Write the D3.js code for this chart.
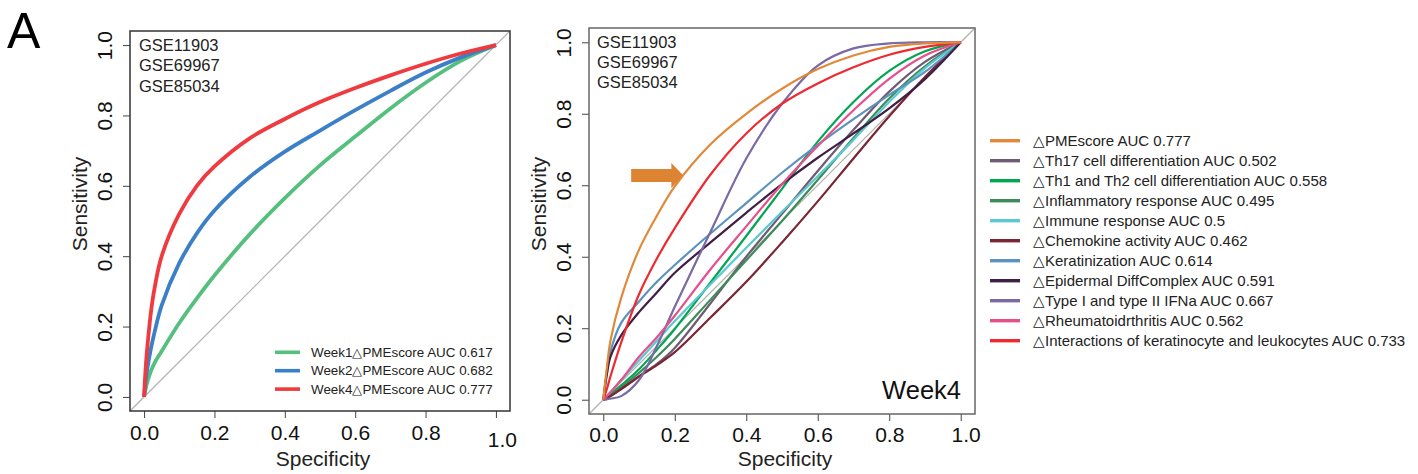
<!DOCTYPE html>
<html>
<head>
<meta charset="utf-8">
<script src="https://cdn.jsdelivr.net/npm/d3@7"></script>
<style>
  body { margin: 0; background: #fff; }
  svg { display: block; font-family: "Liberation Sans", Arial, Helvetica, sans-serif; }
</style>
</head>
<body>
<div id="chart"></div>
<script>
/* Values (sensitivity at each specificity step) */
const ticks = [0, 0.2, 0.4, 0.6, 0.8, 1.0];
const datasets = ["GSE11903", "GSE69967", "GSE85034"];

// Left panel: PMEscore change at week 1, 2 and 4
const leftSpec = [0, 0.005, 0.01, 0.02, 0.03, 0.05, 0.1, 0.15, 0.2, 0.3, 0.4, 0.5, 0.6, 0.7, 0.8, 0.9, 1];
const week1 = [0, 0.025, 0.045, 0.075, 0.097, 0.13, 0.21, 0.28, 0.345, 0.462, 0.565, 0.658, 0.74, 0.82, 0.893, 0.955, 1];
const week2 = [0, 0.05, 0.085, 0.14, 0.185, 0.26, 0.38, 0.465, 0.53, 0.625, 0.697, 0.757, 0.815, 0.87, 0.922, 0.965, 1];
const week4 = [0, 0.09, 0.15, 0.245, 0.31, 0.40, 0.52, 0.60, 0.655, 0.735, 0.79, 0.838, 0.878, 0.914, 0.947, 0.976, 1];
const leftLabels = ["Week1\u25B3PMEscore AUC 0.617", "Week2\u25B3PMEscore AUC 0.682", "Week4\u25B3PMEscore AUC 0.777"];
const leftColors = ["#55bf7d", "#3b7fc8", "#ef3b3f"];

// Right panel: week 4, PMEscore against the single pathways
const rightSpec = [0, 0.01, 0.02, 0.05, 0.1, 0.15, 0.2, 0.3, 0.4, 0.5, 0.6, 0.7, 0.8, 0.9, 1];
const pmescore    = [0, 0.09, 0.165, 0.285, 0.42, 0.515, 0.597, 0.715, 0.80, 0.87, 0.925, 0.963, 0.987, 0.997, 1];
const th17        = [0, 0.005, 0.01, 0.03, 0.065, 0.10, 0.145, 0.27, 0.40, 0.52, 0.64, 0.755, 0.862, 0.945, 1];
const th1th2      = [0, 0.007, 0.015, 0.04, 0.085, 0.14, 0.198, 0.328, 0.458, 0.59, 0.722, 0.833, 0.92, 0.975, 1];
const inflam      = [0, 0.006, 0.012, 0.035, 0.075, 0.12, 0.17, 0.28, 0.39, 0.50, 0.615, 0.732, 0.843, 0.933, 1];
const immune      = [0, 0.011, 0.022, 0.055, 0.11, 0.165, 0.22, 0.323, 0.425, 0.526, 0.625, 0.727, 0.833, 0.928, 1];
const chemokine   = [0, 0.005, 0.01, 0.03, 0.065, 0.097, 0.133, 0.23, 0.33, 0.44, 0.555, 0.675, 0.793, 0.903, 1];
const keratin     = [0, 0.08, 0.135, 0.215, 0.275, 0.33, 0.377, 0.465, 0.55, 0.635, 0.713, 0.785, 0.853, 0.917, 1];
const epidermal   = [0, 0.07, 0.12, 0.18, 0.245, 0.30, 0.355, 0.44, 0.523, 0.603, 0.677, 0.745, 0.815, 0.897, 1];
const ifn         = [0, 0.001, 0.003, 0.01, 0.055, 0.15, 0.26, 0.47, 0.675, 0.828, 0.935, 0.983, 0.997, 1, 1];
const rheumatoid  = [0, 0.01, 0.02, 0.055, 0.12, 0.175, 0.235, 0.365, 0.485, 0.603, 0.71, 0.81, 0.898, 0.963, 1];
const interaction = [0, 0.03, 0.065, 0.16, 0.295, 0.395, 0.48, 0.63, 0.745, 0.828, 0.885, 0.93, 0.965, 0.987, 1];
const rightLabels = [
  "\u25B3PMEscore AUC 0.777",
  "\u25B3Th17 cell differentiation AUC 0.502",
  "\u25B3Th1 and Th2 cell differentiation AUC 0.558",
  "\u25B3Inflammatory response AUC 0.495",
  "\u25B3Immune response AUC 0.5",
  "\u25B3Chemokine activity AUC 0.462",
  "\u25B3Keratinization AUC 0.614",
  "\u25B3Epidermal DiffComplex AUC 0.591",
  "\u25B3Type I and type II IFNa AUC 0.667",
  "\u25B3Rheumatoidrthritis AUC 0.562",
  "\u25B3Interactions of keratinocyte and leukocytes AUC 0.733"
];
const rightColors = ["#e0893a", "#6f5b74", "#00a651", "#3b8c58", "#5cc8d2", "#7a2434",
                     "#5b93be", "#3f1f46", "#7a69a4", "#e6508a", "#ee2a30"];

/* Create the SVG container */
const width = 1418, height = 474;
const svg = d3.select("#chart")
  .append("svg")
  .attr("width", width)
  .attr("height", height)
  .attr("viewBox", [0, 0, width, height]);

svg.append("rect").attr("width", width).attr("height", height).attr("fill", "#fff");

svg.append("text")
  .attr("x", 7).attr("y", 48)
  .style("font-size", "50px")
  .text("A");

/* One ROC panel: box, diagonal, curves, axes, labels */
const drawPanel = (box, series, opts) => {
  const x = d3.scaleLinear().domain([-0.04, 1.04]).range([box.left, box.right]);
  const y = d3.scaleLinear().domain([-0.04, 1.04]).range([box.bottom, box.top]);
  const g = svg.append("g");

  // reference diagonal (abline)
  g.append("line")
    .attr("x1", x(-0.04)).attr("y1", y(-0.04))
    .attr("x2", x(1.04)).attr("y2", y(1.04))
    .attr("stroke", "#b0b0b0")
    .attr("stroke-width", 1.2);

  const line = d3.line()
    .x(d => x(d[0]))
    .y(d => y(d[1]))
    .curve(d3.curveCatmullRom.alpha(0.5));

  g.selectAll("path.roc")
    .data(series)
    .join("path")
      .attr("class", "roc")
      .attr("d", d => line(d.points))
      .attr("fill", "none")
      .attr("stroke", d => d.color)
      .attr("stroke-width", opts.lineWidth)
      .attr("stroke-linejoin", "round");

  /* Axes */
  const xAxis = g.append("g")
    .attr("transform", `translate(0,${box.bottom})`)
    .call(d3.axisBottom(x).tickValues(ticks).tickFormat(d3.format(".1f")).tickSize(7))
    .attr("font-family", null)
    .attr("font-size", null);
  xAxis.select(".domain").remove();
  xAxis.selectAll("line").attr("stroke", "#444");
  xAxis.selectAll("text")
    .attr("y", opts.tickY)
    .attr("dy", null)
    .style("font-size", "21px")
    .attr("fill", "#111");
  xAxis.selectAll("text").filter(d => d === 1)
    .attr("dx", opts.lastDx)
    .attr("y", opts.tickY + opts.lastDy);

  const yAxis = g.append("g")
    .attr("transform", `translate(${box.left},0)`)
    .call(d3.axisLeft(y).tickValues(ticks).tickFormat(d3.format(".1f")).tickSize(7))
    .attr("font-family", null)
    .attr("font-size", null);
  yAxis.select(".domain").remove();
  yAxis.selectAll("line").attr("stroke", "#444");
  yAxis.selectAll("text")
    .attr("transform", "rotate(-90)")
    .attr("x", 0)
    .attr("y", -18)
    .attr("dy", null)
    .style("text-anchor", "middle")
    .style("font-size", "21px")
    .attr("fill", "#111");

  // plot box
  g.append("rect")
    .attr("x", box.left).attr("y", box.top)
    .attr("width", box.right - box.left)
    .attr("height", box.bottom - box.top)
    .attr("fill", "none")
    .attr("stroke", opts.boxColor)
    .attr("stroke-width", 1.5);

  // axis titles
  g.append("text")
    .attr("x", (box.left + box.right) / 2 + 3)
    .attr("y", 466)
    .style("text-anchor", "middle")
    .style("font-size", "21px")
    .attr("fill", "#222")
    .text("Specificity");
  g.append("text")
    .attr("transform", `translate(${box.left - 43},${opts.ylabY}) rotate(-90)`)
    .style("text-anchor", "middle")
    .style("font-size", "21px")
    .attr("fill", "#222")
    .text("Sensitivity");

  // dataset names in the top left corner
  g.selectAll("text.gse")
    .data(datasets)
    .join("text")
      .attr("class", "gse")
      .attr("x", opts.gseX)
      .attr("y", (d, i) => opts.gseY + i * 20.3)
      .style("font-size", "16.5px")
      .attr("fill", "#222")
      .text(d => d);

  return {x, y, g};
};

/* Left panel */
const leftSeries = [week1, week2, week4].map((v, i) => ({
  color: leftColors[i],
  points: d3.zip(leftSpec, v)
}));
const left = drawPanel({left: 130, right: 510, top: 31, bottom: 411}, leftSeries,
  {lineWidth: 3.8, boxColor: "#333", tickY: 29, lastDx: 6, lastDy: 7, ylabY: 204, gseX: 139, gseY: 51});

const leftLegend = left.g.selectAll("g.leg")
  .data(leftLabels)
  .join("g")
    .attr("class", "leg")
    .attr("transform", (d, i) => `translate(275,${352.3 + i * 18.4})`);
leftLegend.append("line")
  .attr("x1", 0).attr("x2", 25)
  .attr("stroke", (d, i) => leftColors[i])
  .attr("stroke-width", 3.6);
leftLegend.append("text")
  .attr("x", 36).attr("y", 4.6)
  .style("font-size", "13.4px")
  .attr("fill", "#222")
  .text(d => d);

/* Right panel */
const rightValues = [pmescore, th17, th1th2, inflam, immune, chemokine,
                     keratin, epidermal, ifn, rheumatoid, interaction];
const rightSeries = rightValues.map((v, i) => ({
  color: rightColors[i],
  points: d3.zip(rightSpec, v)
}));
// draw the week-4 PMEscore and the interactions curve on top
const order = [1, 2, 3, 4, 5, 6, 7, 8, 9, 10, 0];
const right = drawPanel({left: 589, right: 975, top: 28, bottom: 414}, order.map(i => rightSeries[i]),
  {lineWidth: 2.2, boxColor: "#666", tickY: 28, lastDx: 5, lastDy: 0, ylabY: 204, gseX: 597, gseY: 47.5});

right.g.append("text")
  .attr("x", 961).attr("y", 399)
  .style("text-anchor", "end")
  .style("font-size", "25.5px")
  .attr("fill", "#111")
  .text("Week4");

// orange arrow pointing at the PMEscore curve
const tipX = right.x(0.224), tipY = right.y(0.627), tailX = right.x(0.078);
right.g.append("path")
  .attr("d", `M${tailX},${tipY - 6.5} L${tipX - 12},${tipY - 6.5} L${tipX - 12},${tipY - 12.5}
              L${tipX},${tipY} L${tipX - 12},${tipY + 12.5} L${tipX - 12},${tipY + 6.5} L${tailX},${tipY + 6.5} Z`)
  .attr("fill", "#dd8432");

/* Legend to the right of the panel */
const rightLegend = svg.selectAll("g.rleg")
  .data(rightLabels)
  .join("g")
    .attr("class", "rleg")
    .attr("transform", (d, i) => `translate(990,${140.7 + i * 20})`);
rightLegend.append("line")
  .attr("x1", 0).attr("x2", 30)
  .attr("stroke", (d, i) => rightColors[i])
  .attr("stroke-width", 3.4);
rightLegend.append("text")
  .attr("x", 43).attr("y", 5.3)
  .style("font-size", "15px")
  .attr("fill", "#222")
  .text(d => d);
</script>
</body>
</html>
